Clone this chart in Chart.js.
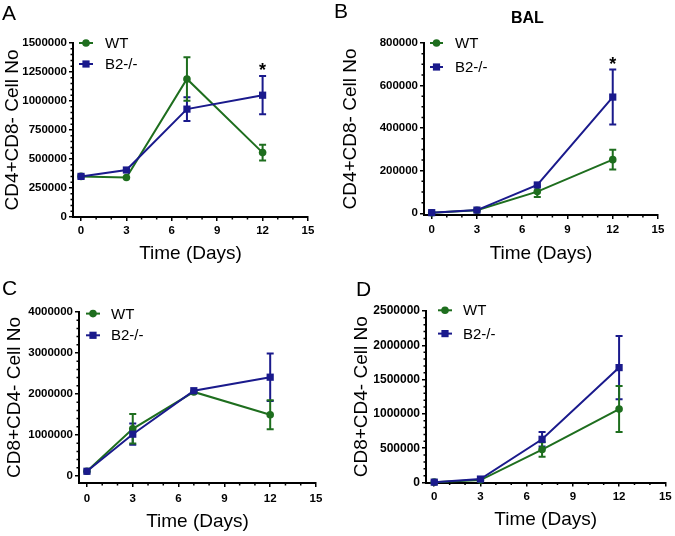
<!DOCTYPE html>
<html>
<head>
<meta charset="utf-8">
<script src="https://cdn.jsdelivr.net/npm/chart.js@4.4.1/dist/chart.umd.min.js"></script>
<style>
    body { margin: 0; background: #fff; }
    #fig { position: relative; width: 675px; height: 536px; overflow: hidden; font-family: "Liberation Sans", Arial, sans-serif; }
    #fig canvas { position: absolute; }
    .letter { position: absolute; font-size: 21px; line-height: 1; color: #000; }
    .ptitle { position: absolute; font-size: 16px; font-weight: bold; line-height: 1; color: #000; }
</style>
</head>
<body>
<div id="fig">
    <canvas id="chartA" width="337" height="265" style="left:0px;top:0px"></canvas>
    <canvas id="chartB" width="338" height="265" style="left:337px;top:0px"></canvas>
    <canvas id="chartC" width="337" height="271" style="left:0px;top:265px"></canvas>
    <canvas id="chartD" width="338" height="271" style="left:337px;top:265px"></canvas>
    <div class="letter" style="left:2px;top:2px">A</div>
    <div class="letter" style="left:334px;top:0px">B</div>
    <div class="letter" style="left:2px;top:277px">C</div>
    <div class="letter" style="left:356px;top:278px">D</div>
    <div class="ptitle" style="left:511px;top:10px">BAL</div>
</div>
<script>
// data
const days = [0, 3, 7, 12];
const seriesNames = ['WT', 'B2-/-'];
const xTicks = [0, 3, 6, 9, 12, 15];

// A: CD4+CD8-
const wtA = [350000, 340000, 1190000, 555000];
const wtSemA = [8000, 8000, 187000, 68000];
const b2A = [350000, 405000, 930000, 1050000];
const b2SemA = [8000, 10000, 102000, 165000];
const yTicksA = [0, 250000, 500000, 750000, 1000000, 1250000, 1500000];

// B: BAL CD4+CD8-
const wtB = [2000, 14000, 102000, 252000];
const wtSemB = [1000, 4000, 25000, 46000];
const b2B = [3000, 15000, 133000, 546000];
const b2SemB = [1000, 5000, 12000, 129000];
const yTicksB = [0, 200000, 400000, 600000, 800000];

// C: CD8+CD4-
const wtC = [115000, 1150000, 2050000, 1495000];
const wtSemC = [20000, 360000, 60000, 355000];
const b2C = [115000, 1020000, 2080000, 2410000];
const b2SemC = [20000, 260000, 60000, 580000];
const yTicksC = [0, 1000000, 2000000, 3000000, 4000000];

// D: BAL CD8+CD4-
const wtD = [5000, 35000, 480000, 1070000];
const wtSemD = [2000, 10000, 105000, 335000];
const b2D = [5000, 50000, 630000, 1675000];
const b2SemD = [2000, 10000, 107000, 460000];
const yTicksD = [0, 500000, 1000000, 1500000, 2000000, 2500000];

const green = '#1e6e1e';
const blue = '#1a1a8c';
const fontFam = '"Liberation Sans", Arial, sans-serif';

function drawMarker(ctx, style, x, y, color) {
    ctx.fillStyle = color;
    if (style === 'rect') {
        ctx.fillRect(x - 3.6, y - 3.6, 7.2, 7.2);
    } else {
        ctx.beginPath();
        ctx.arc(x, y, 3.8, 0, Math.PI * 2);
        ctx.fill();
    }
}

const figPlugin = {
    id: 'fig',
    beforeDatasetsDraw(chart, args, p) {
        const ctx = chart.ctx;
        const xs = chart.scales.x, ys = chart.scales.y;
        ctx.save();
        chart.data.datasets.forEach(ds => {
            ctx.strokeStyle = ds.borderColor;
            ctx.lineWidth = 2;
            ds.data.forEach((pt, j) => {
                const x = xs.getPixelForValue(pt.x);
                const yT = ys.getPixelForValue(pt.y + ds.sem[j]);
                const yB = ys.getPixelForValue(pt.y - ds.sem[j]);
                if (yB - yT < 8) return;
                ctx.beginPath();
                ctx.moveTo(x, yT); ctx.lineTo(x, yB);
                ctx.moveTo(x - 3.5, yT); ctx.lineTo(x + 3.5, yT);
                ctx.moveTo(x - 3.5, yB); ctx.lineTo(x + 3.5, yB);
                ctx.stroke();
            });
        });
        ctx.restore();
    },
    afterDraw(chart, args, p) {
        const ctx = chart.ctx;
        const xs = chart.scales.x, ys = chart.scales.y;
        const area = chart.chartArea;
        ctx.save();
        // minor ticks
        ctx.strokeStyle = '#000';
        ctx.lineWidth = 1.5;
        ctx.beginPath();
        for (let d = 0; d <= 15; d++) {
            if (d % 3 === 0) continue;
            const x = xs.getPixelForValue(d);
            ctx.moveTo(x, area.bottom); ctx.lineTo(x, area.bottom + 2.5);
        }
        for (let v = 0; v <= ys.max + 1; v += p.yMinor) {
            if (yTicksOf(p).includes(v)) continue;
            const y = ys.getPixelForValue(v);
            ctx.moveTo(area.left, y); ctx.lineTo(area.left - 2.5, y);
        }
        ctx.stroke();
        // legend
        ctx.font = '15px ' + fontFam;
        ctx.textBaseline = 'middle';
        ctx.textAlign = 'left';
        const legendSets = [chart.data.datasets[1], chart.data.datasets[0]];
        legendSets.forEach((ds, i) => {
            const y = area.top + p.legend.rows[i];
            const x0 = area.left + p.legend.x0, x1 = area.left + p.legend.x1;
            ctx.strokeStyle = ds.borderColor;
            ctx.lineWidth = 2;
            ctx.beginPath(); ctx.moveTo(x0, y); ctx.lineTo(x1, y); ctx.stroke();
            drawMarker(ctx, ds.pointStyle, (x0 + x1) / 2, y, ds.borderColor);
            ctx.fillStyle = '#000';
            ctx.fillText(ds.label, area.left + p.legend.tx, y + 1);
        });
        // significance star
        if (p.star) {
            const ds = chart.data.datasets[0];
            const j = days.indexOf(p.star);
            const x = xs.getPixelForValue(p.star);
            const y = ys.getPixelForValue(ds.data[j].y + ds.sem[j]);
            ctx.font = 'bold 18px ' + fontFam;
            ctx.textAlign = 'center';
            ctx.textBaseline = 'alphabetic';
            ctx.fillStyle = '#000';
            ctx.fillText('*', x, y - 10 + 10.3);
        }
        ctx.restore();
    }
};

function yTicksOf(p) { return p.yTicks; }

function buildPanel(p) {
    const pts = arr => days.map((d, i) => ({ x: d, y: arr[i] }));
    return new Chart(document.getElementById(p.id), {
        type: 'line',
        data: {
            datasets: [{
                label: seriesNames[1],
                data: pts(p.b2),
                sem: p.b2Sem,
                borderColor: blue,
                backgroundColor: blue,
                pointStyle: 'rect',
                pointRadius: 5.1,
                pointBorderWidth: 0,
                borderWidth: 2,
                order: 1,
                clip: false
            }, {
                label: seriesNames[0],
                data: pts(p.wt),
                sem: p.wtSem,
                borderColor: green,
                backgroundColor: green,
                pointStyle: 'circle',
                pointRadius: 3.8,
                pointBorderWidth: 0,
                borderWidth: 2,
                order: 2,
                clip: false
            }]
        },
        options: {
            responsive: false,
            animation: false,
            devicePixelRatio: 1,
            layout: { padding: { left: 0, top: p.padTop, right: p.padRight, bottom: 0 } },
            plugins: { legend: { display: false }, tooltip: { enabled: false }, fig: p },
            scales: {
                x: {
                    type: 'linear',
                    min: p.xMin,
                    max: 15,
                    afterBuildTicks: s => { s.ticks = xTicks.map(v => ({ value: v })); },
                    afterFit: s => { s.height = p.xAxisH; },
                    border: { display: true, color: '#000', width: 2 },
                    grid: { display: true, drawOnChartArea: false, drawTicks: true, tickLength: 4, color: '#000', lineWidth: 1.5 },
                    ticks: {
                        autoSkip: false, maxRotation: 0, padding: p.xTickPad, color: '#000',
                        font: { family: fontFam, size: 11.5, weight: 'bold' },
                        callback: v => String(v)
                    },
                    title: {
                        display: true, text: 'Time (Days)', color: '#000',
                        font: { family: fontFam, size: 19 },
                        padding: { top: 0, bottom: p.xTitlePad }
                    }
                },
                y: {
                    type: 'linear',
                    min: p.yMin,
                    max: p.yMax,
                    afterBuildTicks: s => { s.ticks = p.yTicks.map(v => ({ value: v })); },
                    afterFit: s => { s.width = p.yAxisW; },
                    border: { display: true, color: '#000', width: 2 },
                    grid: { display: true, drawOnChartArea: false, drawTicks: true, tickLength: 4, color: '#000', lineWidth: 1.5 },
                    ticks: {
                        autoSkip: false, padding: 2, color: '#000',
                        font: { family: fontFam, size: p.yTickSize, weight: 'bold' },
                        callback: v => String(v)
                    },
                    title: {
                        display: true, text: p.yTitle, color: '#000',
                        font: { family: fontFam, size: 19 },
                        padding: { top: p.yTitlePad, bottom: 0 }
                    }
                }
            }
        },
        plugins: [figPlugin]
    });
}

buildPanel({
    id: 'chartA', wt: wtA, wtSem: wtSemA, b2: b2A, b2Sem: b2SemA,
    yTicks: yTicksA, yMin: 0, yMax: 1500000, yMinor: 50000, xMin: -0.53,
    padTop: 43, padRight: 29, yAxisW: 73, xAxisH: 48, xTickPad: 3, xTitlePad: 0, yTitlePad: 1, yTickSize: 11.5,
    yTitle: 'CD4+CD8- Cell No', legend: { x0: 6, x1: 20, tx: 32, rows: [0, 21] }, star: 12
});
buildPanel({
    id: 'chartB', wt: wtB, wtSem: wtSemB, b2: b2B, b2Sem: b2SemB,
    yTicks: yTicksB, yMin: -8000, yMax: 800000, yMinor: 50000, xMin: -0.51,
    padTop: 43, padRight: 17, yAxisW: 87, xAxisH: 50, xTickPad: 4, xTitlePad: 0, yTitlePad: 2.6, yTickSize: 11.5,
    yTitle: 'CD4+CD8- Cell No', legend: { x0: 6, x1: 19, tx: 31, rows: [0, 24] }, star: 12
});
buildPanel({
    id: 'chartC', wt: wtC, wtSem: wtSemC, b2: b2C, b2Sem: b2SemC,
    yTicks: yTicksC, yMin: -171000, yMax: 4000000, yMinor: 200000, xMin: -0.52,
    padTop: 47, padRight: 21, yAxisW: 79, xAxisH: 53, xTickPad: 5.4, xTitlePad: 3, yTitlePad: 3.6, yTickSize: 11.5,
    yTitle: 'CD8+CD4- Cell No', legend: { x0: 7, x1: 21, tx: 32, rows: [1.6, 23.3] }, star: null
});
buildPanel({
    id: 'chartD', wt: wtD, wtSem: wtSemD, b2: b2D, b2Sem: b2SemD,
    yTicks: yTicksD, yMin: 0, yMax: 2500000, yMinor: 100000, xMin: -0.535,
    padTop: 46, padRight: 8, yAxisW: 89, xAxisH: 53.5, xTickPad: 3.3, xTitlePad: 4.6, yTitlePad: 13, yTickSize: 12,
    yTitle: 'CD8+CD4- Cell No', legend: { x0: 12, x1: 26, tx: 37, rows: [-0.7, 22.6] }, star: null
});
</script>
</body>
</html>
